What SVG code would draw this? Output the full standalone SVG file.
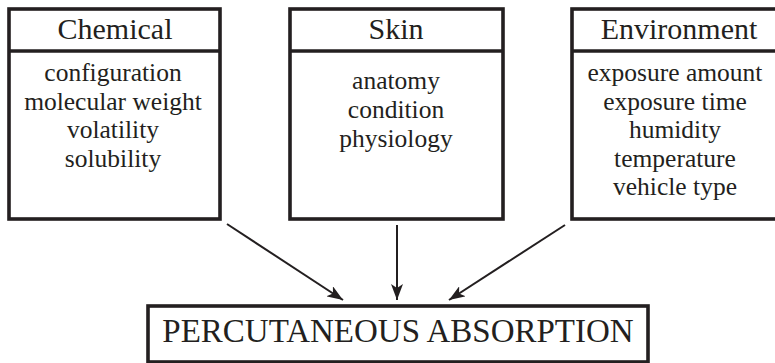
<svg xmlns="http://www.w3.org/2000/svg" width="775" height="363" viewBox="0 0 775 363">
  <style>
    .box { fill: #fff; stroke: #231f20; stroke-width: 3.6; }
    .rule { stroke: #231f20; stroke-width: 3.4; }
    .head { font-family: "Liberation Serif", "Times New Roman", serif; font-size: 30px; fill: #231f20; text-anchor: middle; }
    .item { font-family: "Liberation Serif", "Times New Roman", serif; font-size: 25.5px; fill: #231f20; text-anchor: middle; }
    .big { font-family: "Liberation Serif", "Times New Roman", serif; font-size: 33px; fill: #231f20; text-anchor: middle; }
    .edge { stroke: #231f20; stroke-width: 2; fill: none; marker-end: url(#arrow); }
  </style>
  <defs>
    <marker id="arrow" viewBox="0 0 16 12" refX="16" refY="6" markerWidth="16" markerHeight="12" markerUnits="userSpaceOnUse" orient="auto">
      <path d="M0,0 L16,6 L0,12 L4,6 Z" fill="#231f20"/>
    </marker>
  </defs>
  <rect width="775" height="363" fill="#fff"/>

  <g id="chemical">
    <rect class="box" x="9" y="9" width="211" height="210"/>
    <line class="rule" x1="9" y1="51" x2="220" y2="51"/>
    <text class="head" x="115" y="39">Chemical</text>
    <text class="item" x="113" y="81">configuration</text>
    <text class="item" x="113" y="109.5">molecular weight</text>
    <text class="item" x="113" y="138">volatility</text>
    <text class="item" x="113" y="166.5">solubility</text>
  </g>

  <g id="skin">
    <rect class="box" x="290" y="9" width="213" height="210"/>
    <line class="rule" x1="290" y1="51" x2="503" y2="51"/>
    <text class="head" x="396" y="39">Skin</text>
    <text class="item" x="396" y="89">anatomy</text>
    <text class="item" x="396" y="118">condition</text>
    <text class="item" x="396" y="147">physiology</text>
  </g>

  <g id="environment">
    <rect class="box" x="572" y="9" width="213" height="210"/>
    <line class="rule" x1="572" y1="51" x2="785" y2="51"/>
    <text class="head" x="679" y="39">Environment</text>
    <text class="item" x="675" y="81">exposure amount</text>
    <text class="item" x="675" y="109.5">exposure time</text>
    <text class="item" x="675" y="138">humidity</text>
    <text class="item" x="675" y="166.5">temperature</text>
    <text class="item" x="675" y="194.5">vehicle type</text>
  </g>

  <g id="absorption">
    <rect class="box" x="148" y="306" width="500" height="56"/>
    <text class="big" x="398" y="342">PERCUTANEOUS ABSORPTION</text>
  </g>

  <g id="connectors">
    <line class="edge" x1="227" y1="224" x2="343" y2="300"/>
    <line class="edge" x1="397" y1="225" x2="397" y2="300"/>
    <line class="edge" x1="565" y1="225" x2="449" y2="300"/>
  </g>
</svg>
